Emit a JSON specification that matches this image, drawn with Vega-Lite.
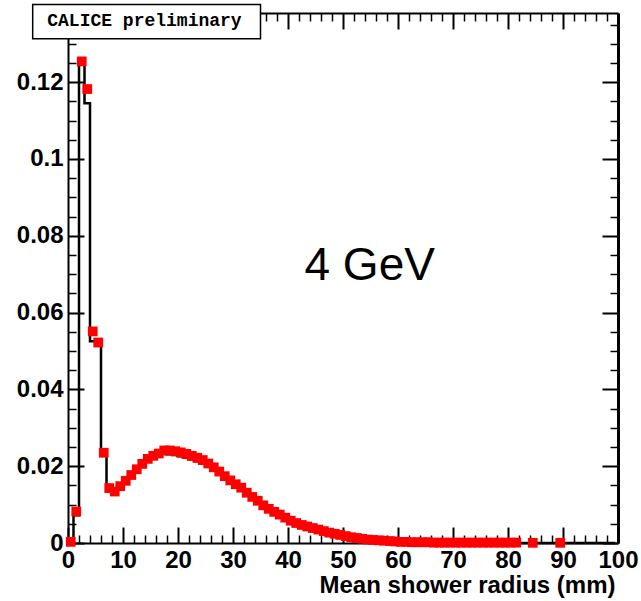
{
  "$schema": "https://vega.github.io/schema/vega-lite/v6.json",
  "width": 550,
  "height": 530,
  "autosize": {"type": "none"},
  "padding": {"left": 68, "top": 13, "right": 23, "bottom": 58},
  "background": "white",
  "config": {
    "view": {"stroke": null},
    "axis": {
      "grid": false,
      "labelFont": "Liberation Sans",
      "labelFontWeight": "bold",
      "labelFontSize": 24,
      "labelColor": "black",
      "domainColor": "black",
      "domainWidth": 2,
      "tickColor": "black",
      "titleFont": "Liberation Sans",
      "titleFontWeight": "bold",
      "titleFontSize": 24,
      "titleColor": "black"
    }
  },
  "datasets": {
    "meas": [
      {"r": 0.5, "f": 0.0003}, {"r": 1.5, "f": 0.0082}, {"r": 2.5, "f": 0.1254}, {"r": 3.5, "f": 0.1182},
      {"r": 4.5, "f": 0.0551}, {"r": 5.5, "f": 0.0522}, {"r": 6.5, "f": 0.0235}, {"r": 7.5, "f": 0.0143},
      {"r": 8.5, "f": 0.0134}, {"r": 9.5, "f": 0.0148}, {"r": 10.5, "f": 0.0162}, {"r": 11.5, "f": 0.0177},
      {"r": 12.5, "f": 0.0192}, {"r": 13.5, "f": 0.0206}, {"r": 14.5, "f": 0.0219}, {"r": 15.5, "f": 0.0227},
      {"r": 16.5, "f": 0.0233}, {"r": 17.5, "f": 0.0241}, {"r": 18.5, "f": 0.0241}, {"r": 19.5, "f": 0.0239},
      {"r": 20.5, "f": 0.0236}, {"r": 21.5, "f": 0.0232}, {"r": 22.5, "f": 0.0227}, {"r": 23.5, "f": 0.0222},
      {"r": 24.5, "f": 0.0216}, {"r": 25.5, "f": 0.0207}, {"r": 26.5, "f": 0.0197}, {"r": 27.5, "f": 0.0186},
      {"r": 28.5, "f": 0.0174}, {"r": 29.5, "f": 0.0163}, {"r": 30.5, "f": 0.0153}, {"r": 31.5, "f": 0.0144},
      {"r": 32.5, "f": 0.0131}, {"r": 33.5, "f": 0.0120}, {"r": 34.5, "f": 0.0110}, {"r": 35.5, "f": 0.0098},
      {"r": 36.5, "f": 0.0089}, {"r": 37.5, "f": 0.0081}, {"r": 38.5, "f": 0.0074}, {"r": 39.5, "f": 0.0066},
      {"r": 40.5, "f": 0.0058}, {"r": 41.5, "f": 0.0052}, {"r": 42.5, "f": 0.0047}, {"r": 43.5, "f": 0.0043},
      {"r": 44.5, "f": 0.0039}, {"r": 45.5, "f": 0.0035}, {"r": 46.5, "f": 0.0031}, {"r": 47.5, "f": 0.0027},
      {"r": 48.5, "f": 0.0024}, {"r": 49.5, "f": 0.0021}, {"r": 50.5, "f": 0.0018}, {"r": 51.5, "f": 0.0015},
      {"r": 52.5, "f": 0.0013}, {"r": 53.5, "f": 0.0011}, {"r": 54.5, "f": 0.0009}, {"r": 55.5, "f": 0.0008},
      {"r": 56.5, "f": 0.0007}, {"r": 57.5, "f": 0.0006}, {"r": 58.5, "f": 0.0005}, {"r": 59.5, "f": 0.0004},
      {"r": 60.5, "f": 0.0003}, {"r": 61.5, "f": 0.0003}, {"r": 62.5, "f": 0.0002}, {"r": 63.5, "f": 0.0002},
      {"r": 64.5, "f": 0.0002}, {"r": 65.5, "f": 0.0002}, {"r": 66.5, "f": 0.0001}, {"r": 67.5, "f": 0.0001},
      {"r": 68.5, "f": 0.0001}, {"r": 69.5, "f": 0.0001}, {"r": 70.5, "f": 0.0001}, {"r": 71.5, "f": 0.0001},
      {"r": 72.5, "f": 0.0001}, {"r": 73.5, "f": 0.0001}, {"r": 74.5, "f": 0.0001}, {"r": 75.5, "f": 0.0001},
      {"r": 76.5, "f": 0.0001}, {"r": 77.5, "f": 0.0001}, {"r": 78.5, "f": 0.0001}, {"r": 79.5, "f": 0.0001},
      {"r": 80.5, "f": 0.0001}, {"r": 81.5, "f": 0.0001}, {"r": 84.5, "f": 0.00005}, {"r": 89.5, "f": 0.00005}
    ],
    "mc": [
      {"r": 0.5, "f": 0}, {"r": 1.5, "f": 0.0072}, {"r": 2.5, "f": 0.1250}, {"r": 3.5, "f": 0.1145},
      {"r": 4.5, "f": 0.0525}, {"r": 5.5, "f": 0.0520}, {"r": 6.5, "f": 0.0240}, {"r": 7.5, "f": 0.0146},
      {"r": 8.5, "f": 0.0138}, {"r": 9.5, "f": 0.0150}, {"r": 10.5, "f": 0.0163}, {"r": 11.5, "f": 0.0177},
      {"r": 12.5, "f": 0.0191}, {"r": 13.5, "f": 0.0204}, {"r": 14.5, "f": 0.0215}, {"r": 15.5, "f": 0.0223},
      {"r": 16.5, "f": 0.0229}, {"r": 17.5, "f": 0.0232}, {"r": 18.5, "f": 0.0231}, {"r": 19.5, "f": 0.0229},
      {"r": 20.5, "f": 0.0226}, {"r": 21.5, "f": 0.0222}, {"r": 22.5, "f": 0.0218}, {"r": 23.5, "f": 0.0213},
      {"r": 24.5, "f": 0.0207}, {"r": 25.5, "f": 0.0200}, {"r": 26.5, "f": 0.0192}, {"r": 27.5, "f": 0.0183},
      {"r": 28.5, "f": 0.0173}, {"r": 29.5, "f": 0.0163}, {"r": 30.5, "f": 0.0153}, {"r": 31.5, "f": 0.0143},
      {"r": 32.5, "f": 0.0133}, {"r": 33.5, "f": 0.0123}, {"r": 34.5, "f": 0.0113}, {"r": 35.5, "f": 0.0103},
      {"r": 36.5, "f": 0.0094}, {"r": 37.5, "f": 0.0085}, {"r": 38.5, "f": 0.0077}, {"r": 39.5, "f": 0.0070},
      {"r": 40.5, "f": 0.0063}, {"r": 41.5, "f": 0.0057}, {"r": 42.5, "f": 0.0051}, {"r": 43.5, "f": 0.0045},
      {"r": 44.5, "f": 0.0040}, {"r": 45.5, "f": 0.0035}, {"r": 46.5, "f": 0.0031}, {"r": 47.5, "f": 0.0027},
      {"r": 48.5, "f": 0.0023}, {"r": 49.5, "f": 0.0020}, {"r": 50.5, "f": 0.0017}, {"r": 51.5, "f": 0.0014},
      {"r": 52.5, "f": 0.0012}, {"r": 53.5, "f": 0.0010}, {"r": 54.5, "f": 0.0008}, {"r": 55.5, "f": 0.0007},
      {"r": 56.5, "f": 0.0006}, {"r": 57.5, "f": 0.0005}, {"r": 58.5, "f": 0.0004}, {"r": 59.5, "f": 0.0003},
      {"r": 60.5, "f": 0.0003}, {"r": 61.5, "f": 0.0002}, {"r": 62.5, "f": 0.0002}, {"r": 63.5, "f": 0.0001},
      {"r": 64.5, "f": 0.0001}, {"r": 65.5, "f": 0.0001}, {"r": 66.5, "f": 0.0001}, {"r": 67.5, "f": 0.0001},
      {"r": 68.5, "f": 0}, {"r": 69.5, "f": 0}, {"r": 70.5, "f": 0}, {"r": 80.5, "f": 0}, {"r": 99.5, "f": 0}
    ]
  },
  "resolve": {"axis": {"x": "independent", "y": "independent"}},
  "layer": [
    {
      "data": {"name": "mc"},
      "mark": {"type": "line", "interpolate": "step", "color": "black", "strokeWidth": 2.5},
      "encoding": {
        "x": {"field": "r", "type": "quantitative",
          "scale": {"domain": [0, 100], "nice": false, "zero": false},
          "axis": {"orient": "bottom", "values": [0, 10, 20, 30, 40, 50, 60, 70, 80, 90, 100],
            "ticks": false, "domain": true, "labelPadding": 5, "labelFlush": false, "labelOverlap": false,
            "title": "Mean shower radius (mm)", "titleAnchor": "end", "titleAlign": "right",
            "titleBaseline": "alphabetic", "titleX": 547, "titleY": 49}},
        "y": {"field": "f", "type": "quantitative",
          "scale": {"domain": [0, 0.138], "nice": false, "zero": true},
          "axis": {"orient": "left", "values": [0, 0.02, 0.04, 0.06, 0.08, 0.1, 0.12], "format": "~g",
            "ticks": false, "domain": true, "labelPadding": 5, "labelFlush": false, "labelOverlap": false, "title": null}}
      }
    },
    {
      "data": {"name": "meas"},
      "mark": {"type": "square", "color": "#ff0000", "opacity": 1, "size": 95},
      "encoding": {
        "x": {"field": "r", "type": "quantitative",
          "axis": {"orient": "bottom", "values": [0, 10, 20, 30, 40, 50, 60, 70, 80, 90, 100],
            "labels": false, "domain": false, "tickSize": -16, "tickWidth": 2, "title": null}},
        "y": {"field": "f", "type": "quantitative",
          "axis": {"orient": "left", "values": [0, 0.02, 0.04, 0.06, 0.08, 0.1, 0.12],
            "labels": false, "domain": false, "tickSize": -16, "tickWidth": 2, "title": null}}
      }
    },
    {
      "data": {"name": "meas"},
      "mark": {"type": "square", "opacity": 0},
      "encoding": {
        "x": {"field": "r", "type": "quantitative",
          "axis": {"orient": "bottom", "values": [2, 4, 6, 8, 12, 14, 16, 18, 22, 24, 26, 28, 32, 34, 36, 38, 42, 44, 46, 48, 52, 54, 56, 58, 62, 64, 66, 68, 72, 74, 76, 78, 82, 84, 86, 88, 92, 94, 96, 98],
            "labels": false, "domain": false, "tickSize": -8, "tickWidth": 1.5, "title": null}},
        "y": {"field": "f", "type": "quantitative",
          "axis": {"orient": "left", "values": [0.005, 0.01, 0.015, 0.025, 0.03, 0.035, 0.045, 0.05, 0.055, 0.065, 0.07, 0.075, 0.085, 0.09, 0.095, 0.105, 0.11, 0.115, 0.125, 0.13, 0.135],
            "labels": false, "domain": false, "tickSize": -8, "tickWidth": 1.5, "title": null}}
      }
    },
    {
      "data": {"name": "meas"},
      "mark": {"type": "square", "opacity": 0},
      "encoding": {
        "x": {"field": "r", "type": "quantitative",
          "axis": {"orient": "top", "values": [0, 10, 20, 30, 40, 50, 60, 70, 80, 90, 100],
            "labels": false, "domain": true, "tickSize": -16, "tickWidth": 2, "title": null}},
        "y": {"field": "f", "type": "quantitative",
          "axis": {"orient": "right", "values": [0, 0.02, 0.04, 0.06, 0.08, 0.1, 0.12],
            "labels": false, "domain": true, "domainWidth": 3, "tickSize": -16, "tickWidth": 2, "title": null}}
      }
    },
    {
      "data": {"name": "meas"},
      "mark": {"type": "square", "opacity": 0},
      "encoding": {
        "x": {"field": "r", "type": "quantitative",
          "axis": {"orient": "top", "values": [2, 4, 6, 8, 12, 14, 16, 18, 22, 24, 26, 28, 32, 34, 36, 38, 42, 44, 46, 48, 52, 54, 56, 58, 62, 64, 66, 68, 72, 74, 76, 78, 82, 84, 86, 88, 92, 94, 96, 98],
            "labels": false, "domain": false, "tickSize": -8, "tickWidth": 1.5, "title": null}},
        "y": {"field": "f", "type": "quantitative",
          "axis": {"orient": "right", "values": [0.005, 0.01, 0.015, 0.025, 0.03, 0.035, 0.045, 0.05, 0.055, 0.065, 0.07, 0.075, 0.085, 0.09, 0.095, 0.105, 0.11, 0.115, 0.125, 0.13, 0.135],
            "labels": false, "domain": false, "tickSize": -8, "tickWidth": 1.5, "title": null}}
      }
    },
    {
      "data": {"values": [{"label": "CALICE preliminary"}]},
      "mark": {"type": "rect", "fill": "white", "stroke": "black", "strokeWidth": 1.5},
      "encoding": {
        "x": {"datum": -6.42, "type": "quantitative", "axis": null},
        "x2": {"datum": 35.0},
        "y": {"datum": 0.1402, "type": "quantitative", "axis": null},
        "y2": {"datum": 0.1313}
      }
    },
    {
      "data": {"values": [{"label": "CALICE preliminary"}]},
      "mark": {"type": "text", "font": "Liberation Mono", "fontWeight": "bold", "fontSize": 18, "color": "black", "align": "center", "baseline": "middle"},
      "encoding": {
        "x": {"datum": 13.9, "type": "quantitative", "axis": null},
        "y": {"datum": 0.1358, "type": "quantitative", "axis": null},
        "text": {"field": "label"}
      }
    },
    {
      "data": {"values": [{"label": "4 GeV"}]},
      "mark": {"type": "text", "font": "Liberation Sans", "fontSize": 46, "color": "black", "align": "left", "baseline": "alphabetic"},
      "encoding": {
        "x": {"datum": 43.0, "type": "quantitative", "axis": null},
        "y": {"datum": 0.0684, "type": "quantitative", "axis": null},
        "text": {"field": "label"}
      }
    }
  ]
}
